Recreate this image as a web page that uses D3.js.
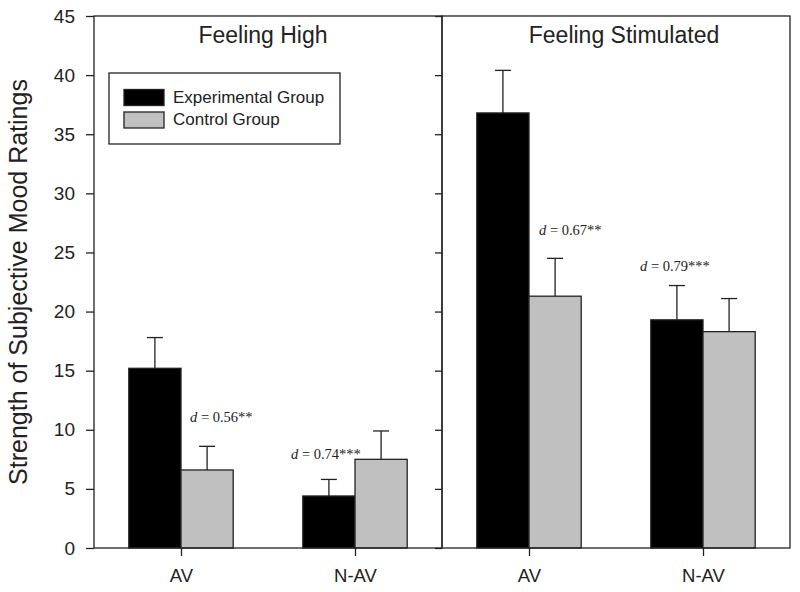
<!DOCTYPE html>
<html>
<head>
    <meta charset="utf-8">
    <title>Strength of Subjective Mood Ratings</title>
    <script src="https://d3js.org/d3.v7.min.js"></script>
    <style>
        body {
            margin: 0;
            background: #fff;
            font-family: "Liberation Sans", Arial, sans-serif;
        }
        .axis text {
            fill: #222;
        }
        .axis line {
            stroke: #222;
            stroke-width: 1.3px;
        }
        .effect {
            font-family: "Liberation Serif", "Times New Roman", serif;
            font-size: 14.5px;
            fill: #222;
        }
    </style>
</head>
<body>
    <svg id="chart" width="800" height="592"></svg>

    <script>
        // data (panel by panel: AV then N-AV)
        const panels = ['Feeling High', 'Feeling Stimulated'];
        const conditions = ['AV', 'N-AV'];
        const groups = ['Experimental Group', 'Control Group'];
        const experimentalMeans = [15.2, 4.4, 36.8, 19.3];
        const experimentalUpper = [17.8, 5.8, 40.4, 22.2];
        const controlMeans = [6.6, 7.5, 21.3, 18.3];
        const controlUpper = [8.6, 9.9, 24.5, 21.1];
        const effectLabels = ['0.56**', '0.74***', '0.67**', '0.79***'];
        const effectHeights = [10.7, 7.5, 26.5, 23.4];
        const yTicks = [0, 5, 10, 15, 20, 25, 30, 35, 40, 45];

        const colors = {'Experimental Group': '#000000', 'Control Group': '#c0c0c0'};
        const margin = {top: 16, right: 10, bottom: 44, left: 94};
        const width = 800 - margin.left - margin.right;
        const height = 592 - margin.top - margin.bottom;

        const svg = d3.select('#chart');
        const g = svg.append('g')
            .attr('transform', `translate(${margin.left},${margin.top})`);

        const y = d3.scaleLinear().domain([0, 45]).range([height, 0]);
        const xPanel = d3.scaleBand().domain(panels).range([0, width]);
        const xCond = d3.scalePoint().domain(conditions)
            .range([0, xPanel.bandwidth()]).padding(0.5);
        const barWidth = xPanel.bandwidth() * 0.15;
        const xGroup = d3.scaleBand().domain(groups).range([-barWidth, barWidth]);

        // flat records
        const records = [];
        panels.forEach((p, pi) => {
            conditions.forEach((c, ci) => {
                const i = pi * conditions.length + ci;
                records.push({panel: p, cond: c, group: groups[0], mean: experimentalMeans[i], upper: experimentalUpper[i]});
                records.push({panel: p, cond: c, group: groups[1], mean: controlMeans[i], upper: controlUpper[i]});
            });
        });
        const cx = d => xPanel(d.panel) + xCond(d.cond) + xGroup(d.group) + xGroup.bandwidth() / 2;

        // error bars (upper only)
        g.selectAll('.err')
            .data(records)
            .enter().append('line')
            .attr('x1', cx).attr('x2', cx)
            .attr('y1', d => y(d.mean)).attr('y2', d => y(d.upper))
            .attr('stroke', '#222').attr('stroke-width', 1.3);
        g.selectAll('.cap')
            .data(records)
            .enter().append('line')
            .attr('x1', d => cx(d) - 8).attr('x2', d => cx(d) + 8)
            .attr('y1', d => y(d.upper)).attr('y2', d => y(d.upper))
            .attr('stroke', '#222').attr('stroke-width', 1.3);

        // bars
        g.selectAll('.bar')
            .data(records)
            .enter().append('rect')
            .attr('x', d => xPanel(d.panel) + xCond(d.cond) + xGroup(d.group))
            .attr('y', d => y(d.mean))
            .attr('width', xGroup.bandwidth())
            .attr('height', d => height - y(d.mean))
            .attr('fill', d => colors[d.group])
            .attr('stroke', '#222')
            .attr('stroke-width', 1.3);

        // panel frames
        panels.forEach(p => {
            g.append('rect')
                .attr('x', xPanel(p)).attr('y', 0)
                .attr('width', xPanel.bandwidth()).attr('height', height)
                .attr('fill', 'none')
                .attr('stroke', '#222').attr('stroke-width', 1.3);
        });

        // y axis
        g.append('g')
            .attr('class', 'axis')
            .call(d3.axisLeft(y).tickValues(yTicks).tickSize(8).tickPadding(11))
            .call(a => a.select('.domain').remove())
            .selectAll('text')
            .style('font-size', '19px')
            .style('font-family', '"Liberation Sans", Arial, sans-serif');

        // inner ticks on the divider
        g.append('g')
            .attr('class', 'axis')
            .attr('transform', `translate(${xPanel(panels[1])},0)`)
            .call(d3.axisRight(y).tickValues(yTicks).tickSize(-7).tickFormat(''))
            .call(a => a.select('.domain').remove());

        // x axes
        panels.forEach(p => {
            g.append('g')
                .attr('class', 'axis')
                .attr('transform', `translate(${xPanel(p)},${height})`)
                .call(d3.axisBottom(xCond).tickSize(8).tickPadding(13))
                .call(a => a.select('.domain').remove())
                .selectAll('text')
                .style('font-size', '18.5px')
                .style('font-family', '"Liberation Sans", Arial, sans-serif');
        });

        // panel titles
        g.selectAll('.panel-title')
            .data(panels)
            .enter().append('text')
            .attr('x', (d, i) => xPanel(d) + xPanel.bandwidth() / 2 + (i === 0 ? -5 : 8))
            .attr('y', 27)
            .attr('text-anchor', 'middle')
            .style('font-size', '23px')
            .style('fill', '#222')
            .text(d => d);

        // effect size labels
        const labelOffsets = [9, -64, 10, -63];
        effectLabels.forEach((lab, i) => {
            const p = panels[Math.floor(i / 2)];
            const c = conditions[i % 2];
            const t = g.append('text')
                .attr('class', 'effect')
                .attr('x', xPanel(p) + xCond(c) + labelOffsets[i])
                .attr('y', y(effectHeights[i]));
            t.append('tspan').style('font-style', 'italic').text('d');
            t.append('tspan').text(' = ' + lab);
        });

        // legend
        const legend = g.append('g').attr('transform', 'translate(15,57)');
        legend.append('rect')
            .attr('width', 231).attr('height', 71)
            .attr('fill', '#fff')
            .attr('stroke', '#222').attr('stroke-width', 1.3);
        const items = legend.selectAll('.item')
            .data(groups)
            .enter().append('g')
            .attr('transform', (d, i) => `translate(15,${16.5 + i * 22.5})`);
        items.append('rect')
            .attr('width', 40).attr('height', 16)
            .attr('fill', d => colors[d])
            .attr('stroke', '#222').attr('stroke-width', 1.3);
        items.append('text')
            .attr('x', 49).attr('y', 13)
            .style('font-size', '17px')
            .style('fill', '#222')
            .text(d => d);

        // y axis label
        svg.append('text')
            .attr('transform', `translate(27,${margin.top + height / 2}) rotate(-90)`)
            .attr('text-anchor', 'middle')
            .style('font-size', '25px')
            .style('fill', '#222')
            .text('Strength of Subjective Mood Ratings');
    </script>
</body>
</html>
